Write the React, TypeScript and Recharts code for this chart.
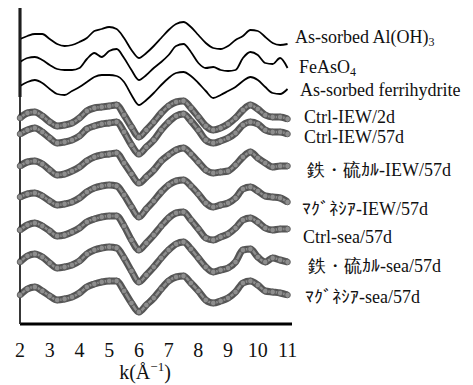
import { Customized, Line, LineChart, XAxis, YAxis } from "recharts";

const FONT = "'Liberation Serif', serif";

// k (Å^-1)
const K = [
    2, 2.25, 2.5, 2.75, 3, 3.25, 3.5, 3.75, 4, 4.25, 4.5, 4.75, 5, 5.25, 5.5, 5.75, 6, 6.25, 6.5,
    6.75, 7, 7.25, 7.5, 7.75, 8, 8.25, 8.5, 8.75, 9, 9.25, 9.5, 9.75, 10, 10.25, 10.5, 10.75, 11,
];
const X_TICKS = [2, 3, 4, 5, 6, 7, 8, 9, 10, 11];

// stacked k3χ(k), arbitrary units incl. vertical offset
const AL_OH3 = [285, 288, 290, 290, 285, 280, 278, 279, 282, 286, 293, 295, 297, 295, 286, 274, 266, 271, 278, 286, 294, 300, 302, 297, 289, 281, 276, 275, 278, 284, 288, 294, 293, 287, 281, 279, 280];
const FEASO4 = [262, 266, 267, 264, 259, 255, 254, 254, 256, 265, 271, 267, 273, 275, 266, 254, 244, 249, 256, 262, 269, 278, 280, 272, 261, 256, 257, 254, 253, 254, 266, 272, 269, 261, 260, 266, 256];
const FERRIHYDRITE = [238, 242, 244, 241, 235, 230, 229, 233, 237, 242, 247, 249, 249, 248, 242, 229, 219, 224, 231, 239, 246, 251, 252, 248, 241, 233, 226, 229, 233, 237, 243, 247, 244, 237, 231, 230, 235];
const CTRL_IEW_2D = [206, 211, 212, 208, 202, 198, 199, 201, 206, 213, 216, 217, 218, 219, 209, 197, 187, 194, 202, 211, 218, 222, 223, 216, 207, 198, 194, 196, 200, 206, 214, 219, 215, 209, 207, 207, 205];
const CTRL_IEW_57D = [190, 194, 196, 192, 186, 181, 182, 184, 188, 195, 198, 200, 201, 202, 192, 179, 170, 177, 184, 194, 202, 208, 210, 203, 194, 184, 181, 183, 186, 191, 199, 202, 200, 194, 192, 192, 190];
const FES_IEW_57D = [158, 162, 163, 160, 154, 149, 150, 153, 157, 163, 167, 169, 170, 171, 161, 150, 141, 147, 154, 163, 169, 174, 176, 170, 162, 154, 151, 152, 153, 159, 167, 172, 166, 161, 157, 158, 158];
const MG_IEW_57D = [127, 130, 131, 128, 123, 119, 120, 122, 126, 132, 136, 138, 139, 138, 129, 117, 107, 115, 123, 132, 139, 143, 144, 138, 130, 121, 117, 119, 121, 126, 135, 137, 133, 128, 127, 126, 122];
const CTRL_SEA_57D = [94, 99, 101, 98, 93, 88, 89, 92, 96, 102, 105, 107, 108, 108, 98, 84, 74, 81, 89, 98, 106, 111, 112, 104, 95, 86, 84, 87, 90, 96, 104, 106, 102, 96, 94, 95, 95];
const FES_SEA_57D = [62, 68, 70, 67, 61, 56, 57, 59, 63, 70, 74, 76, 77, 76, 66, 53, 42, 49, 57, 66, 74, 80, 82, 75, 66, 57, 52, 54, 56, 62, 74, 75, 67, 62, 66, 64, 62];
const MG_SEA_57D = [29, 35, 37, 33, 28, 24, 25, 27, 31, 37, 40, 42, 43, 43, 33, 21, 12, 19, 26, 35, 43, 47, 48, 41, 33, 24, 21, 23, 26, 32, 41, 43, 39, 33, 32, 31, 29];

const REFERENCES = [
    { key: "al", values: AL_OH3 },
    { key: "feaso4", values: FEASO4 },
    { key: "fh", values: FERRIHYDRITE },
];
const SAMPLES = [
    { key: "ctrlIew2", values: CTRL_IEW_2D },
    { key: "ctrlIew57", values: CTRL_IEW_57D },
    { key: "fesIew57", values: FES_IEW_57D },
    { key: "mgIew57", values: MG_IEW_57D },
    { key: "ctrlSea57", values: CTRL_SEA_57D },
    { key: "fesSea57", values: FES_SEA_57D },
    { key: "mgSea57", values: MG_SEA_57D },
];

// text beside each curve: [text, subscript, x, baseline]
const LABELS: [string, string, number, number][] = [
    ["As-sorbed Al(OH)", "3", 287, 35],
    ["FeAsO", "4", 291, 65],
    ["As-sorbed ferrihydrite", "", 292, 88],
    ["Ctrl-IEW/2d", "", 296, 115],
    ["Ctrl-IEW/57d", "", 296, 135],
    ["鉄・硫ｶﾙ-IEW/57d", "", 299, 168],
    ["ﾏｸﾞﾈｼｱ-IEW/57d", "", 294, 207],
    ["Ctrl-sea/57d", "", 295, 235],
    ["鉄・硫ｶﾙ-sea/57d", "", 300, 264],
    ["ﾏｸﾞﾈｼｱ-sea/57d", "", 297, 295],
];

const rows = K.map((k, i) => {
    const row: Record<string, number> = { k };
    [...REFERENCES, ...SAMPLES].forEach((s) => (row[s.key] = s.values[i]));
    return row;
});

function CurveLabels() {
    return (
        <g fontFamily={FONT} fill="#111">
            <line x1={12} y1={0} x2={12} y2={89} stroke="#000" strokeWidth={3} />
            {LABELS.map(([text, sub, x, y]) => (
                <text key={text} x={x} y={y} fontSize={18}>
                    {text}
                    {sub && (
                        <tspan fontSize={12} dy={3}>
                            {sub}
                        </tspan>
                    )}
                </text>
            ))}
            <text x={137} y={371} fontSize={20} textAnchor="middle">
                k(Å
                <tspan fontSize={13} dy={-8}>
                    −1
                </tspan>
                <tspan dy={8}>)</tspan>
            </text>
        </g>
    );
}

export default function App() {
    return (
        <LineChart
            width={465}
            height={377}
            data={rows}
            margin={{ top: 0, right: 181, bottom: 31, left: 10 }}
        >
            <XAxis
                dataKey="k"
                type="number"
                domain={[2, 11.15]}
                ticks={X_TICKS}
                interval={0}
                height={30}
                axisLine={{ stroke: "#000", strokeWidth: 3 }}
                tickLine={false}
                tickMargin={13}
                tick={{ fontSize: 20, fill: "#111", fontFamily: FONT }}
            />
            <YAxis
                type="number"
                domain={[0, 316]}
                width={2}
                tick={false}
                tickLine={false}
                axisLine={{ stroke: "#222", strokeWidth: 1.8 }}
            />
            {REFERENCES.map((s) => (
                <Line
                    key={s.key}
                    dataKey={s.key}
                    type="monotone"
                    stroke="#000"
                    strokeWidth={1.8}
                    dot={false}
                    isAnimationActive={false}
                />
            ))}
            {SAMPLES.map((s) => (
                <Line
                    key={s.key + "-band"}
                    dataKey={s.key}
                    type="monotone"
                    stroke="#555"
                    strokeWidth={7}
                    dot={false}
                    isAnimationActive={false}
                />
            ))}
            {SAMPLES.map((s) => (
                <Line
                    key={s.key + "-data"}
                    dataKey={s.key}
                    type="monotone"
                    stroke="#8e8e8e"
                    strokeWidth={2.5}
                    dot={{ r: 2.8, fill: "#8e8e8e", stroke: "#5a5a5a", strokeWidth: 0.9 }}
                    isAnimationActive={false}
                />
            ))}
            <Customized component={CurveLabels} />
        </LineChart>
    );
}
